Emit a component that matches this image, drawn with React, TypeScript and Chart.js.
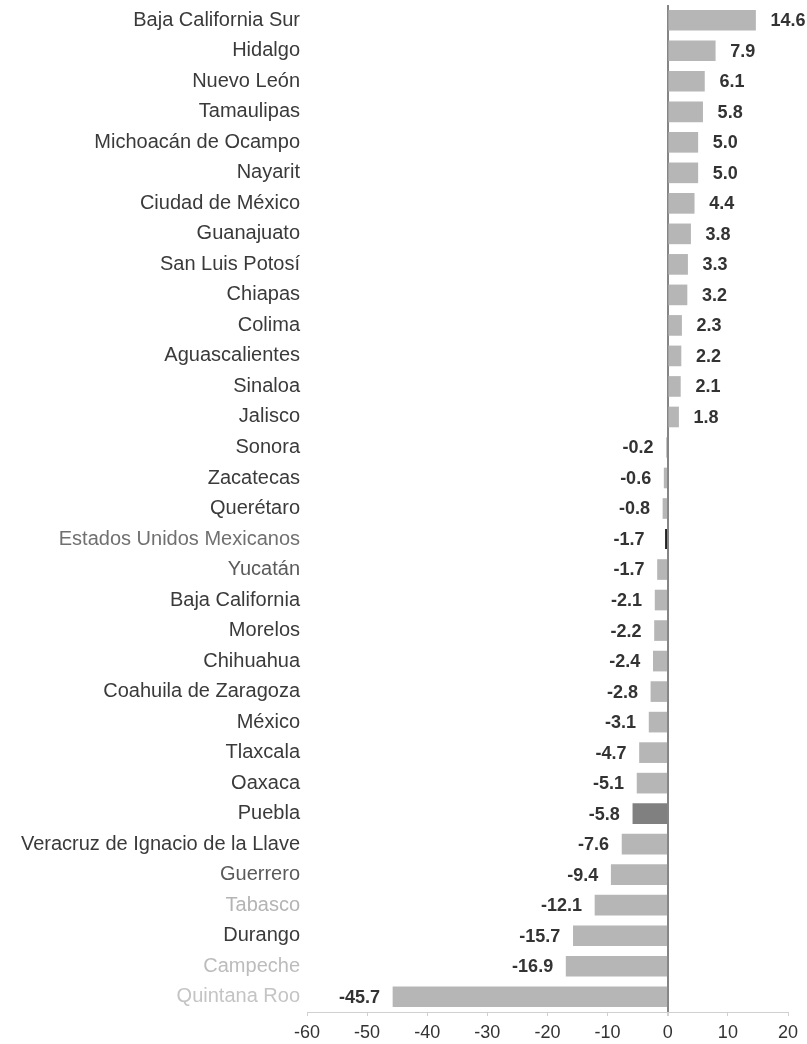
import React, { useEffect, useRef } from "react";
import { Chart, registerables } from "chart.js";

Chart.register(...registerables);

const STATES = [
  "Baja California Sur", "Hidalgo", "Nuevo León", "Tamaulipas", "Michoacán de Ocampo",
  "Nayarit", "Ciudad de México", "Guanajuato", "San Luis Potosí", "Chiapas", "Colima",
  "Aguascalientes", "Sinaloa", "Jalisco", "Sonora", "Zacatecas", "Querétaro",
  "Estados Unidos Mexicanos", "Yucatán", "Baja California", "Morelos", "Chihuahua",
  "Coahuila de Zaragoza", "México", "Tlaxcala", "Oaxaca", "Puebla",
  "Veracruz de Ignacio de la Llave", "Guerrero", "Tabasco", "Durango", "Campeche", "Quintana Roo",
];

const VALUES = [
  14.6, 7.9, 6.1, 5.8, 5.0, 5.0, 4.4, 3.8, 3.3, 3.2, 2.3, 2.2, 2.1, 1.8,
  -0.2, -0.6, -0.8, -1.7, -1.7, -2.1, -2.2, -2.4, -2.8, -3.1, -4.7, -5.1, -5.8,
  -7.6, -9.4, -12.1, -15.7, -16.9, -45.7,
];

const X_MIN = -60;
const X_MAX = 20;
const X_STEP = 10;

const NATIONAL = "Estados Unidos Mexicanos";
const HIGHLIGHT = "Puebla";
const FADED: Record<string, string> = {
  "Tabasco": "#b4b4b4",
  "Campeche": "#bcbcbc",
  "Quintana Roo": "#c4c4c4",
  "Estados Unidos Mexicanos": "#707070",
  "Guerrero": "#5a5a5a",
  "Yucatán": "#5a5a5a",
};

const FONT = "'Liberation Sans', Arial, sans-serif";

const valueLabels = {
  id: "valueLabels",
  afterDatasetsDraw(chart: any) {
    const ctx = chart.ctx;
    const meta = chart.getDatasetMeta(0);
    ctx.save();
    ctx.font = `bold 18px ${FONT}`;
    ctx.fillStyle = "#333333";
    ctx.textBaseline = "middle";
    meta.data.forEach((bar: any, i: number) => {
      const v = VALUES[i];
      const txt = v.toFixed(1);
      if (v >= 0) {
        ctx.textAlign = "left";
        ctx.fillText(txt, bar.x + 15, bar.y + 1);
      } else {
        ctx.textAlign = "right";
        ctx.fillText(txt, bar.x - 13, bar.y + 1);
      }
    });
    ctx.restore();
  },
};

export default function App() {
  const ref = useRef<HTMLCanvasElement | null>(null);

  useEffect(() => {
    document.body.style.margin = "0";
    if (!ref.current) return;
    const chart = new Chart(ref.current, {
      type: "bar",
      data: {
        labels: STATES,
        datasets: [
          {
            data: VALUES,
            backgroundColor: STATES.map((s) =>
              s === NATIONAL ? "#ffffff" : s === HIGHLIGHT ? "#808080" : "#b6b6b6"
            ),
            borderColor: "#222222",
            borderWidth: STATES.map((s) =>
              s === NATIONAL ? { top: 0, bottom: 0, left: 0, right: 2 } : 0
            ) as any,
            borderSkipped: false,
            barThickness: 20,
          },
        ],
      },
      options: {
        indexAxis: "y",
        animation: false,
        responsive: false,
        maintainAspectRatio: false,
        layout: { padding: { top: 5, right: 19, left: 0, bottom: 0 } },
        plugins: {
          legend: { display: false },
          tooltip: { enabled: false },
        },
        scales: {
          x: {
            min: X_MIN,
            max: X_MAX,
            ticks: {
              stepSize: X_STEP,
              color: "#333333",
              font: { family: FONT, size: 18 },
              padding: 6,
            },
            grid: {
              color: (c: any) => (c.tick && c.tick.value === 0 ? "#858585" : "rgba(0,0,0,0)"),
              lineWidth: (c: any) => (c.tick && c.tick.value === 0 ? 2 : 1),
              tickColor: "#d0d0d0",
              tickLength: 4,
            },
            border: { display: true, color: "#d0d0d0", width: 1 },
            afterFit: (s: any) => {
              s.height = 32;
            },
          },
          y: {
            ticks: {
              color: (c: any) => FADED[STATES[c.index]] || "#3a3a3a",
              font: { family: FONT, size: 20 },
              padding: 7,
              autoSkip: false,
            },
            grid: { display: false, drawTicks: false },
            border: { display: false },
            afterFit: (s: any) => {
              s.width = 307;
              s.paddingTop = 0;
              s.paddingBottom = 0;
            },
          },
        },
      },
      plugins: [valueLabels],
    });
    return () => chart.destroy();
  }, []);

  return (
    <div style={{ width: 807, height: 1044, background: "#fff" }}>
      <canvas ref={ref} width={807} height={1044} style={{ display: "block" }} />
    </div>
  );
}
